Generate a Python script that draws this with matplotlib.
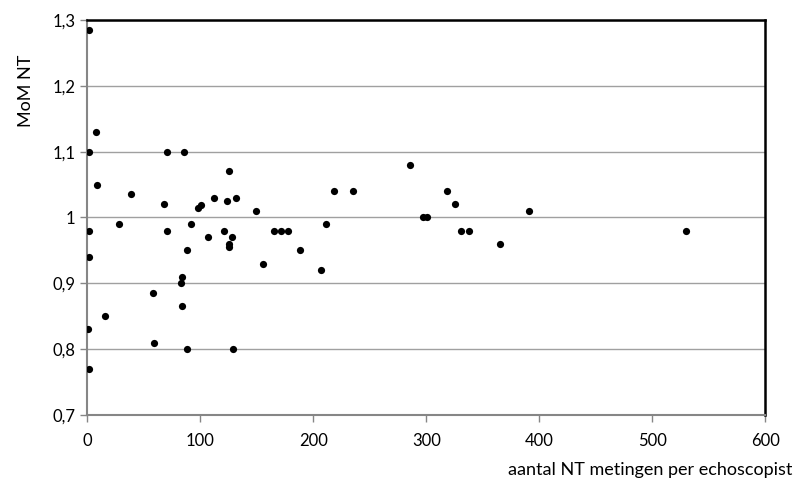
import matplotlib
matplotlib.use("Agg")
import matplotlib.pyplot as plt
from matplotlib.ticker import FuncFormatter

# aantal NT metingen per echoscopist vs MoM NT
aantal = [1.6, 7.8, 1.6, 8.4, 39, 70.6, 85.4, 67.7, 97.8, 101, 112, 125.5, 124, 131.7, 149.4,
          1.6, 1.6, 27.6, 70.6, 91.6, 88.3, 107, 120.5, 127.9, 125.5, 125.5, 83.9, 82.5, 58,
          83.9, 15.5, 1, 58.6, 88.3, 129, 1.6, 155.3, 165.3, 171, 177.2, 188.3, 206.9, 210.8,
          217.9, 234.7, 285.4, 296.6, 300.2, 317.9, 325, 330.8, 337.6, 364.8, 391, 530]
mom_nt = [1.285, 1.13, 1.10, 1.05, 1.036, 1.10, 1.10, 1.02, 1.015, 1.019, 1.03, 1.07, 1.025, 1.03, 1.01,
          0.98, 0.94, 0.99, 0.98, 0.99, 0.95, 0.97, 0.98, 0.97, 0.96, 0.955, 0.91, 0.90, 0.885,
          0.865, 0.85, 0.83, 0.81, 0.80, 0.80, 0.77, 0.93, 0.98, 0.98, 0.98, 0.95, 0.92, 0.99,
          1.04, 1.04, 1.08, 1.0, 1.0, 1.04, 1.02, 0.98, 0.98, 0.96, 1.01, 0.98]

x_ticks = [0, 100, 200, 300, 400, 500, 600]
y_ticks = [0.7, 0.8, 0.9, 1.0, 1.1, 1.2, 1.3]

plt.rcParams['font.family'] = ['Lato', 'DejaVu Sans']

fig = plt.figure(figsize=(7.94, 4.86), dpi=100)
ax = fig.add_axes([0.110, 0.146, 0.854, 0.813])

ax.scatter(aantal, mom_nt, s=27, color="black", zorder=3, linewidths=0)

ax.set_xlim(0, 600)
ax.set_ylim(0.7, 1.3)
ax.set_xticks(x_ticks)
ax.set_yticks(y_ticks)

def komma(v, pos):
    s = f"{v:.1f}".replace(".", ",")
    return "1" if s == "1,0" else s

ax.yaxis.set_major_formatter(FuncFormatter(komma))
ax.grid(axis="y", color="#a0a0a0", linewidth=1)
ax.set_axisbelow(True)

for side in ["left", "bottom"]:
    ax.spines[side].set_color("#868686")
    ax.spines[side].set_linewidth(1.5)
for side in ["top", "right"]:
    ax.spines[side].set_color("black")
    ax.spines[side].set_linewidth(1.8)

ax.tick_params(axis="both", colors="#868686", labelcolor="black", labelsize=12, length=5, width=1)
ax.tick_params(axis="x", pad=8)

ax.set_ylabel("MoM NT", fontsize=13)
ax.yaxis.set_label_coords(-0.078, 0.82)
ax.set_xlabel("aantal NT metingen per echoscopist", fontsize=13, ha="right")
ax.xaxis.set_label_coords(1.04, -0.12)

fig.savefig("out.png", dpi=100)
